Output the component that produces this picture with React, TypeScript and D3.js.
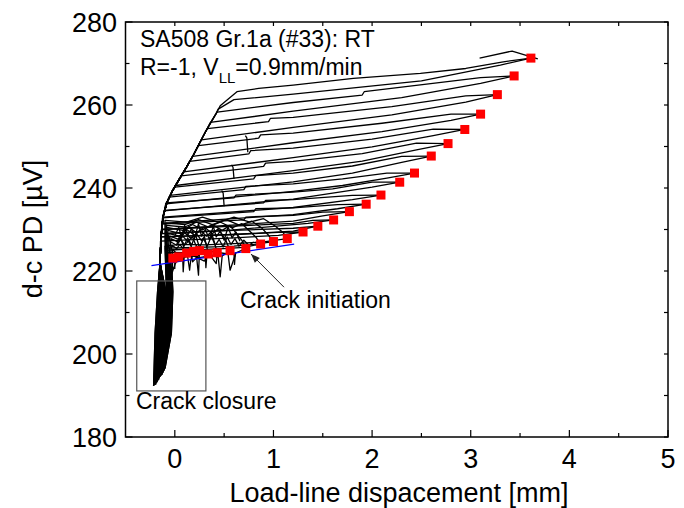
import React from 'react';
import * as d3 from 'd3';

type Pt = [number, number];

// axis ticks
const xMajor = [0, 1, 2, 3, 4, 5];
const xMinor = [0.5, 1.5, 2.5, 3.5, 4.5];
const yMajor = [180, 200, 220, 240, 260, 280];
const yMinor = [190, 210, 230, 250, 270];

// red squares: end of each cycle (crack growth points)
const endX = [-0.02, 0.04, 0.12, 0.19, 0.25, 0.34, 0.43, 0.56, 0.72, 0.87, 1.0, 1.14, 1.3, 1.45, 1.61, 1.77, 1.94, 2.09, 2.28, 2.43, 2.6, 2.77, 2.94, 3.1, 3.27, 3.44, 3.61];
const endY = [223.1, 223.4, 224.3, 224.7, 224.9, 224.1, 224.4, 224.9, 225.4, 226.5, 227.1, 227.8, 229.4, 230.8, 232.3, 234.3, 236.1, 238.3, 241.4, 243.6, 247.7, 250.7, 254.1, 257.8, 262.5, 267.0, 271.3];

// steep (crack closure) part of each cycle
const bottomX = [-0.1, -0.11, -0.105, -0.12, -0.115, -0.13, -0.125, -0.14, -0.135, -0.15, -0.145, -0.16, -0.155, -0.165, -0.17, -0.175, -0.17, -0.18, -0.185, -0.19, -0.185, -0.195, -0.2, -0.195, -0.205, -0.21, -0.215];
const bottomY = [196.5, 196, 197, 195.5, 196.5, 195, 196, 194.8, 195.5, 194.5, 195.2, 194.2, 195, 193.8, 194.5, 193.5, 194, 193.2, 193.8, 193, 193.6, 192.8, 193.4, 192.6, 193, 192.5, 192.3];
const x205 = [-0.035, -0.04, -0.045, -0.05, -0.055, -0.06, -0.065, -0.075, -0.08, -0.085, -0.09, -0.1, -0.105, -0.11, -0.12, -0.125, -0.13, -0.14, -0.145, -0.15, -0.155, -0.16, -0.17, -0.175, -0.18, -0.19, -0.2];
const x215 = [-0.02, -0.025, -0.03, -0.035, -0.04, -0.045, -0.05, -0.06, -0.065, -0.07, -0.075, -0.085, -0.09, -0.095, -0.105, -0.11, -0.115, -0.125, -0.13, -0.135, -0.14, -0.145, -0.155, -0.16, -0.165, -0.17, -0.175];
const steepY = [205, 215];

// upper-left envelope shared by the larger cycles
const envX = [-0.15, -0.14, -0.12, -0.08, -0.02, 0.05, 0.12, 0.19, 0.25, 0.31, 0.37, 0.42, 0.46];
const envY = [222, 228, 233, 236.5, 239.5, 242.3, 245.1, 248, 250.8, 253.5, 256, 258, 259.8];

// loading branch of each cycle (from where it leaves the steep part / envelope)
const loadPts: Pt[][] = [
  [[-0.03, 221], [-0.025, 224], [-0.02, 223.1]],
  [[-0.04, 222], [-0.02, 225.2], [0.01, 224.4], [0.04, 223.4]],
  [[-0.05, 223], [-0.03, 226.2], [0.02, 225.4], [0.05, 226.4], [0.09, 225.2], [0.12, 224.3]],
  [[-0.06, 224], [-0.04, 227], [0.02, 226.2], [0.06, 227.6], [0.1, 226.3], [0.14, 227.2], [0.19, 224.7]],
  [[-0.055, 224.5], [-0.04, 227.8], [0.03, 227.0], [0.08, 228.4], [0.13, 227.1], [0.18, 228.2], [0.21, 226.4], [0.25, 224.9]],
  [[-0.07, 225], [-0.05, 228.4], [0.04, 227.6], [0.1, 229.2], [0.16, 227.9], [0.22, 229.0], [0.27, 227.3], [0.3, 228.3], [0.34, 224.1]],
  [[-0.075, 225.5], [-0.06, 229], [0.05, 228.4], [0.12, 230.0], [0.2, 228.6], [0.26, 229.8], [0.32, 228.4], [0.37, 229.4], [0.4, 227.0], [0.43, 224.4]],
  [[-0.08, 226], [-0.07, 229.8], [0.06, 229.0], [0.14, 230.6], [0.22, 229.2], [0.3, 230.6], [0.38, 229.0], [0.44, 230.2], [0.48, 228.8], [0.52, 227.2], [0.56, 224.9]],
  [[-0.085, 226.5], [-0.08, 230.5], [0.08, 229.8], [0.18, 231.2], [0.28, 229.9], [0.38, 231.2], [0.48, 229.8], [0.56, 231.0], [0.62, 229.2], [0.68, 227.4], [0.72, 225.4]],
  [[-0.09, 227], [-0.085, 231], [0.1, 230.6], [0.22, 231.8], [0.34, 230.6], [0.46, 231.8], [0.58, 230.4], [0.68, 231.4], [0.76, 229.6], [0.82, 228.2], [0.87, 226.5]],
  [[-0.095, 227.5], [-0.09, 231.6], [0.1, 231.2], [0.24, 232.4], [0.38, 231.2], [0.52, 232.4], [0.66, 231.0], [0.78, 232.0], [0.88, 230.4], [0.95, 228.6], [1.0, 227.1]],
  [[-0.1, 228], [-0.1, 232.2], [0.12, 231.8], [0.28, 233.0], [0.44, 231.8], [0.6, 233.0], [0.76, 231.8], [0.9, 232.6], [1.02, 230.8], [1.1, 229.2], [1.14, 227.8]],
  [[-0.14, 228.2], [0.6, 228.8], [1.05, 229.3], [1.3, 229.4]],
  [[-0.137, 229.0], [0.6, 229.8], [1.2, 230.3], [1.45, 230.8]],
  [[-0.133, 230.0], [0.6, 230.8], [1.2, 231.5], [1.4, 232.2], [1.61, 232.3]],
  [[-0.128, 231.3], [0.7, 232.3], [0.72, 233.0], [1.2, 233.4], [1.5, 234.2], [1.77, 234.3]],
  [[-0.125, 232.8], [0.8, 234.3], [0.82, 235.0], [1.2, 235.2], [1.65, 236.0], [1.94, 236.1]],
  [[-0.105, 234.6], [0.9, 236.4], [0.92, 237.0], [1.2, 237.2], [1.8, 238.2], [2.09, 238.3]],
  [[-0.09, 236.4], [0.6, 237.6], [0.62, 238.3], [1.2, 239.0], [1.6, 239.8], [2.0, 241.4], [2.28, 241.4]],
  [[-0.06, 237.8], [0.7, 239.6], [0.72, 240.4], [1.2, 241.0], [1.7, 242.2], [2.15, 243.6], [2.43, 243.6]],
  [[0.0, 240.2], [0.8, 242.2], [0.82, 243.0], [1.2, 243.6], [1.8, 245.3], [2.3, 247.6], [2.6, 247.7]],
  [[0.065, 242.9], [0.9, 245.2], [0.92, 246.0], [1.2, 246.4], [1.9, 248.3], [2.45, 250.8], [2.77, 250.7]],
  [[0.15, 246.4], [0.75, 248.2], [0.77, 249.0], [1.2, 249.6], [2.0, 251.8], [2.62, 254.2], [2.94, 254.1]],
  [[0.24, 250.2], [0.85, 252.0], [0.87, 252.8], [1.2, 253.2], [2.1, 255.6], [2.8, 257.8], [3.1, 257.8]],
  [[0.33, 254.3], [0.95, 256.0], [0.97, 256.8], [1.2, 257.0], [2.2, 259.6], [2.95, 262.2], [3.27, 262.5]],
  [[0.43, 258.3], [1.2, 260.6], [1.9, 262.4], [1.92, 263.2], [3.1, 266.6], [3.44, 267.0]],
  [[0.46, 259.8], [0.63, 263.2], [0.85, 264.0], [1.2, 264.8], [1.81, 266.4], [2.49, 267.6], [2.95, 268.8], [3.33, 270.4], [3.61, 271.3]],
];

// unloading branch of each cycle (from the square back to the left)
const unloadPts: Pt[][] = [
  [[-0.02, 223.1], [-0.03, 219]],
  [[0.04, 223.4], [0.0, 221.5], [-0.035, 219]],
  [[0.12, 224.3], [0.06, 222.5], [0.0, 222.2], [0.0, 220.6], [-0.04, 221]],
  [[0.19, 224.7], [0.16, 222.4], [0.15, 220.2], [0.13, 223.5], [0.05, 223], [-0.05, 222]],
  [[0.25, 224.9], [0.24, 219.0], [0.22, 223.6], [0.12, 224.2], [-0.06, 222.6]],
  [[0.34, 224.1], [0.3, 222.4], [0.2, 223.5], [0.1, 223.9], [-0.07, 223]],
  [[0.43, 224.4], [0.42, 221.8], [0.36, 223.7], [0.25, 223.2], [0.1, 224.3], [-0.075, 223.5]],
  [[0.56, 224.9], [0.48, 223.6], [0.46, 218.6], [0.44, 223.3], [0.3, 224.4], [0.12, 224.0], [-0.08, 224]],
  [[0.72, 225.4], [0.62, 224.4], [0.56, 220.2], [0.54, 224.1], [0.35, 224.8], [0.15, 224.4], [-0.085, 224.5]],
  [[0.87, 226.5], [0.7, 225.7], [0.5, 225.4], [0.3, 225.2], [0.18, 222.2], [0.16, 225.3], [-0.09, 225]],
  [[1.0, 227.1], [0.8, 226.4], [0.6, 226.0], [0.4, 225.8], [0.1, 225.6], [-0.095, 225.5]],
  [[1.14, 227.8], [0.9, 227.0], [0.6, 226.6], [0.3, 226.3], [0.05, 226.4], [-0.1, 226]],
  [[1.3, 229.4], [1.05, 228.6], [0.6, 228.0], [-0.145, 227.2]],
  [[1.45, 230.8], [1.2, 229.6], [0.6, 228.8], [-0.14, 228.2]],
  [[1.61, 232.3], [1.35, 231.5], [0.6, 229.9], [-0.138, 229.0]],
  [[1.77, 234.3], [1.5, 233.3], [1.2, 232.0], [-0.135, 230.0]],
  [[1.94, 236.1], [1.65, 235.0], [1.2, 233.6], [-0.13, 231.5]],
  [[2.09, 238.3], [1.8, 237.2], [1.2, 235.3], [-0.12, 233.0]],
  [[2.28, 241.4], [2.0, 240.2], [1.2, 237.3], [-0.11, 234.5]],
  [[2.43, 243.6], [2.15, 242.4], [1.7, 240.6], [1.2, 239.2], [-0.09, 236.2]],
  [[2.6, 247.7], [2.3, 246.2], [1.8, 243.6], [1.2, 241.5], [-0.05, 238.2]],
  [[2.77, 250.7], [2.45, 249.2], [1.9, 246.5], [1.2, 244.2], [0.01, 240.6]],
  [[2.94, 254.1], [2.62, 252.6], [2.0, 249.9], [1.2, 247.3], [0.09, 243.9]],
  [[3.1, 257.8], [2.8, 256.3], [2.1, 253.6], [1.2, 250.9], [0.18, 247.6]],
  [[3.27, 262.5], [2.95, 260.7], [2.2, 257.6], [1.2, 254.6], [0.27, 251.6]],
  [[3.44, 267.0], [3.1, 265.2], [2.3, 261.8], [1.2, 258.5], [0.36, 255.8]],
  [[3.61, 271.3], [3.3, 269.6], [2.5, 265.8], [1.2, 262.6], [0.6, 261.3], [0.44, 259.0]],
];

// small jumps, noise near initiation and the last overshoot
const extraPts: Pt[][] = [
  [[0.715, 252.6], [0.73, 252.1], [0.74, 248.6]],
  [[0.575, 245.6], [0.59, 245.0], [0.6, 242.2]],
  [[0.475, 239.4], [0.49, 238.8], [0.5, 235.6]],
  [[3.09, 271.3], [3.42, 273.0], [3.68, 271.1]],
  [[0.0, 228.5], [0.04, 230.5], [0.07, 228.0], [0.1, 231.0], [0.13, 228.6], [0.17, 230.2], [0.2, 227.8], [0.24, 231.4], [0.27, 228.4], [0.31, 230.0], [0.35, 227.6], [0.39, 230.8], [0.42, 228.2], [0.46, 229.6], [0.5, 227.4], [0.54, 230.6], [0.58, 228.0], [0.62, 229.4], [0.66, 227.2]],
  [[0.02, 226.4], [0.05, 228.6], [0.09, 225.8], [0.13, 228.0], [0.17, 226.2], [0.21, 228.8], [0.25, 225.6], [0.29, 227.8], [0.33, 226.0], [0.37, 228.4], [0.41, 226.2], [0.45, 227.6], [0.49, 225.8], [0.53, 228.2], [0.57, 226.4], [0.61, 227.8], [0.65, 226.0], [0.7, 227.4], [0.75, 226.2], [0.8, 227.0]],
  [[0.08, 223.2], [0.085, 219.8], [0.095, 223.4]],
  [[0.31, 223.6], [0.315, 220.8], [0.325, 223.8]],
  [[0.6, 224.3], [0.605, 221.6], [0.615, 224.5]],
];

// crack initiation line (blue), closure box, arrow
const blueX = [-0.237, 1.21];
const blueY = [221.3, 226.5];
const boxX = [-0.386, 0.315];
const boxY = [191.1, 217.6];
const arrowFrom: Pt = [1.107, 216.1];
const arrowTo: Pt = [0.772, 224.1];

const W = 684;
const H = 508;
const font = 'Liberation Sans, Arial, Helvetica, sans-serif';

export default function App() {
  const x = d3.scaleLinear().domain([-0.5, 5]).range([125.5, 668]);
  const y = d3.scaleLinear().domain([180, 280]).range([437, 22]);
  const line = d3.line<Pt>().x((d) => x(d[0])).y((d) => y(d[1]));

  const env: Pt[] = envX.map((v, i) => [v, envY[i]]);

  const paths: string[] = [];
  endX.forEach((_, i) => {
    const steep: Pt[] = [
      [bottomX[i], bottomY[i]],
      [x205[i], steepY[0]],
      [x215[i], steepY[1]],
    ];
    const ld = loadPts[i];
    const ul = unloadPts[i];
    const useEnv = i >= 12;
    const envUp = useEnv ? env.filter((p) => p[1] < ld[0][1] && p[0] < ld[0][0]) : [];
    const last = ul[ul.length - 1];
    const envDown = useEnv ? env.filter((p) => p[1] < last[1] && p[0] < last[0]).reverse() : [];
    paths.push(line([...steep, ...envUp, ...ld]) || '');
    paths.push(line([...ul, ...envDown, ...steep.slice().reverse()]) || '');
  });
  extraPts.forEach((p) => paths.push(line(p) || ''));

  const x0 = x(-0.5);
  const x1 = x(5);
  const y0 = y(180);
  const y1 = y(280);

  // arrow head
  const ax = x(arrowTo[0]);
  const ay = y(arrowTo[1]);
  const bx = x(arrowFrom[0]);
  const by = y(arrowFrom[1]);
  const ang = Math.atan2(ay - by, ax - bx);
  const hl = 9;
  const hw = 3.5;
  const head = [
    [ax, ay],
    [ax - hl * Math.cos(ang) + hw * Math.sin(ang), ay - hl * Math.sin(ang) - hw * Math.cos(ang)],
    [ax - hl * Math.cos(ang) - hw * Math.sin(ang), ay - hl * Math.sin(ang) + hw * Math.cos(ang)],
  ]
    .map((p) => p.join(','))
    .join(' ');

  return (
    <svg
      width={W}
      height={H}
      style={{ position: 'absolute', left: 0, top: 0, background: '#fff' }}
      fontFamily={font}
    >
      <rect x={0} y={0} width={W} height={H} fill="#fff" />

      {/* data traces */}
      <g fill="none" stroke="#000" strokeWidth={1.3} strokeLinejoin="round">
        {paths.map((d, i) => (
          <path key={i} d={d} />
        ))}
      </g>

      {/* crack initiation line */}
      <line
        x1={x(blueX[0])}
        y1={y(blueY[0])}
        x2={x(blueX[1])}
        y2={y(blueY[1])}
        stroke="#0000ff"
        strokeWidth={1.3}
      />

      {/* red squares */}
      <g fill="#ff0000">
        {endX.map((v, i) => (
          <rect key={i} x={x(v) - 4.5} y={y(endY[i]) - 4.5} width={9} height={9} />
        ))}
      </g>

      {/* closure box */}
      <rect
        x={x(boxX[0])}
        y={y(boxY[1])}
        width={x(boxX[1]) - x(boxX[0])}
        height={y(boxY[0]) - y(boxY[1])}
        fill="none"
        stroke="#555"
        strokeWidth={1.2}
      />

      {/* arrow */}
      <line x1={bx} y1={by} x2={ax} y2={ay} stroke="#222" strokeWidth={1} />
      <polygon points={head} fill="#222" />

      {/* frame */}
      <rect x={x0} y={y1} width={x1 - x0} height={y0 - y1} fill="none" stroke="#000" strokeWidth={1.5} />

      {/* ticks */}
      <g stroke="#000" strokeWidth={1.2}>
        {xMajor.map((v) => (
          <line key={'xb' + v} x1={x(v)} x2={x(v)} y1={y0} y2={y0 - 7} />
        ))}
        {xMinor.map((v) => (
          <line key={'xbm' + v} x1={x(v)} x2={x(v)} y1={y0} y2={y0 - 4} />
        ))}
        {[...xMajor, ...xMinor].map((v) => (
          <line key={'xt' + v} x1={x(v)} x2={x(v)} y1={y1} y2={y1 + 4} />
        ))}
        {yMajor.map((v) => (
          <line key={'yl' + v} x1={x0} x2={x0 + 7} y1={y(v)} y2={y(v)} />
        ))}
        {yMinor.map((v) => (
          <line key={'ylm' + v} x1={x0} x2={x0 + 4} y1={y(v)} y2={y(v)} />
        ))}
        {[...yMajor, ...yMinor].map((v) => (
          <line key={'yr' + v} x1={x1} x2={x1 - 4} y1={y(v)} y2={y(v)} />
        ))}
      </g>

      {/* tick labels */}
      <g fontSize={27} fill="#000">
        {xMajor.map((v) => (
          <text key={'xl' + v} x={x(v)} y={468} textAnchor="middle">
            {v}
          </text>
        ))}
        {yMajor.map((v) => (
          <text key={'yl' + v} x={117} y={y(v) + 10} textAnchor="end">
            {v}
          </text>
        ))}
      </g>

      {/* axis titles */}
      <text x={399} y={502} fontSize={27} textAnchor="middle" fill="#000">
        Load-line dispacement [mm]
      </text>
      <text
        transform={`translate(42, 229) rotate(-90)`}
        fontSize={27}
        textAnchor="middle"
        fill="#000"
      >
        d-c PD [µV]
      </text>

      {/* annotations */}
      <text x={140} y={47} fontSize={23} fill="#000">
        SA508 Gr.1a (#33): RT
      </text>
      <text x={140} y={75} fontSize={23} fill="#000">
        R=-1, V
        <tspan fontSize={15} dy={8}>
          LL
        </tspan>
        <tspan dy={-8}>=0.9mm/min</tspan>
      </text>
      <text x={240} y={308} fontSize={23} fill="#000">
        Crack initiation
      </text>
      <text x={136} y={409} fontSize={23} fill="#000">
        Crack closure
      </text>
    </svg>
  );
}
